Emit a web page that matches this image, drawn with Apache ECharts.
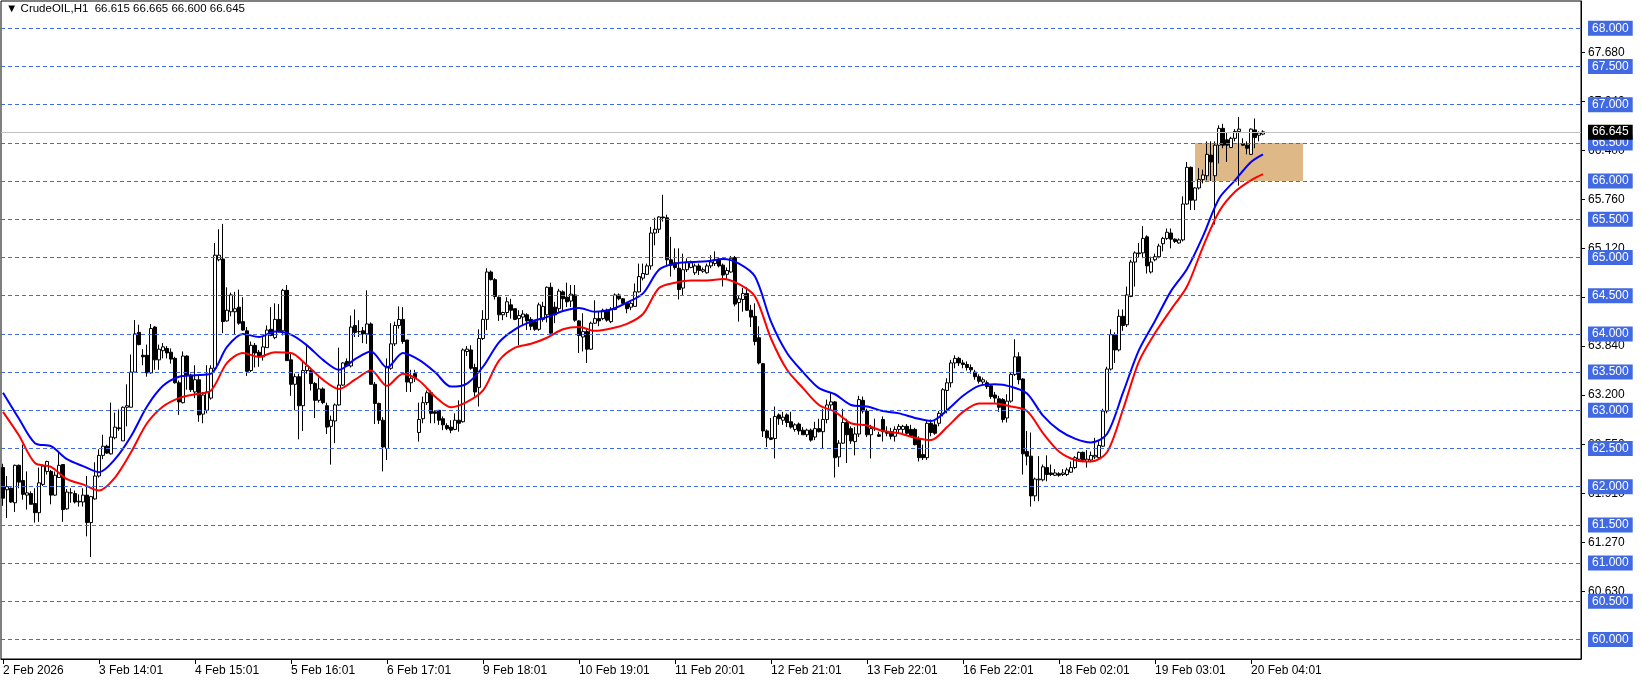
<!DOCTYPE html>
<html><head><meta charset="utf-8">
<script src="https://cdn.jsdelivr.net/npm/echarts@6/dist/echarts.min.js"></script>
<style>html,body{margin:0;padding:0;background:#fff}#c{width:1641px;height:683px}</style>
</head><body><div id="c"></div>
<script>
const symbolName = 'CrudeOIL,H1';
const lastBar = [66.615, 66.665, 66.600, 66.645];
const xTickLabels = ['2 Feb 2026','3 Feb 14:01','4 Feb 15:01','5 Feb 16:01','6 Feb 17:01','9 Feb 18:01','10 Feb 19:01','11 Feb 20:01','12 Feb 21:01','13 Feb 22:01','16 Feb 22:01','18 Feb 02:01','19 Feb 03:01','20 Feb 04:01'];
const barsPerLabel = 24;
const totalSlots = 395;
const levelLines = [60.0,60.5,61.0,61.5,62.0,62.5,63.0,63.5,64.0,64.5,65.0,65.5,66.0,66.5,67.0,67.5,68.0];
const scaleLabels = [60.63,61.27,61.91,62.55,63.20,63.84,64.48,65.12,65.76,66.40,67.04,67.68];
const zoneBars = [298, 325];
const zonePrices = [66.0, 66.5];

const opens = [62.25,61.96,61.98,61.79,62.28,62.08,61.89,61.91,61.78,61.66,
62.03,62.20,62.20,61.89,62.12,62.29,61.71,61.92,61.91,61.80,
61.80,61.89,61.53,61.84,62.14,62.41,62.53,62.43,62.64,62.77,
62.60,63.04,63.04,63.50,64.02,63.72,63.72,63.49,64.09,63.66,
63.78,63.81,63.76,63.68,63.36,63.10,63.71,63.46,63.24,63.40,
62.95,63.00,63.16,63.55,64.97,64.98,64.17,64.29,64.29,64.35,
64.16,64.04,63.52,63.85,63.76,63.70,63.82,64.06,63.95,64.19,
64.04,64.57,63.66,63.34,63.44,63.06,63.52,63.52,63.35,63.13,
63.28,63.06,62.79,62.86,63.07,63.33,63.64,63.58,64.11,64.03,
64.04,64.00,64.13,63.34,63.09,62.87,62.50,63.55,63.87,64.11,
64.19,63.92,63.36,63.48,62.71,62.89,63.10,63.23,62.98,63.00,
62.89,62.80,62.78,62.75,62.87,62.85,63.77,63.79,63.56,63.30,
63.94,64.19,64.81,64.71,64.48,64.25,64.28,64.38,64.33,64.20,
64.22,64.25,64.19,64.16,64.06,64.19,64.25,64.61,64.35,64.33,
64.55,64.48,64.43,64.51,64.17,63.96,64.03,63.80,64.14,64.20,
64.20,64.31,64.16,64.32,64.51,64.46,64.40,64.35,64.36,64.55,
64.73,64.78,64.89,65.32,65.37,65.53,65.52,64.97,64.93,64.86,
64.60,64.84,64.87,64.80,64.89,64.82,64.80,64.89,64.92,64.98,
64.90,64.78,64.81,65.00,64.41,64.45,64.53,64.31,64.23,63.95,
63.61,62.73,62.64,62.63,62.94,62.87,62.94,62.85,62.75,62.82,
62.74,62.68,62.74,62.65,62.76,62.72,62.88,63.07,63.11,62.39,
62.57,62.84,62.76,62.59,62.69,63.13,62.99,62.68,62.76,62.68,
62.88,62.72,62.72,62.66,62.75,62.75,62.79,62.75,62.75,62.62,
62.42,62.38,62.83,62.81,62.83,62.96,63.26,63.36,63.62,63.68,
63.62,63.60,63.56,63.50,63.44,63.37,63.36,63.32,63.20,63.15,
63.14,62.90,63.12,63.47,63.70,63.41,62.46,62.40,61.88,62.09,
62.09,62.25,62.18,62.15,62.17,62.16,62.16,62.19,62.25,62.36,
62.45,62.33,62.35,62.39,62.38,62.53,62.99,63.54,63.99,63.79,
64.23,64.12,64.49,64.94,65.05,65.06,65.27,64.81,64.97,65.01,
65.18,65.25,65.32,65.24,65.19,65.23,65.70,66.18,65.75,65.91,
66.02,66.07,66.34,66.07,66.47,66.69,66.54,66.44,66.56,66.65,
66.49,66.47,66.35,66.67,66.60,66.615];

const highs = [62.30,62.14,61.99,62.29,62.29,62.55,62.20,61.94,61.98,62.25,
62.29,62.34,62.22,62.20,62.44,62.29,61.97,61.98,61.95,61.90,
61.98,62.14,61.88,62.32,62.49,62.68,62.55,63.10,62.97,63.01,
63.05,63.34,63.73,64.18,64.12,63.80,63.86,64.13,64.10,63.86,
63.88,63.84,63.81,63.70,63.39,63.77,63.72,63.48,63.59,63.46,
63.24,63.59,63.59,65.19,65.37,65.44,64.61,64.54,64.55,64.58,
64.48,64.09,63.90,63.88,63.79,63.96,64.11,64.35,64.40,64.39,
64.59,64.64,63.74,63.48,63.48,63.63,63.85,63.56,63.37,63.43,
63.30,63.10,62.93,63.09,63.82,63.63,63.68,64.24,64.32,64.18,
64.09,64.57,64.15,63.37,63.10,62.91,63.68,64.14,64.16,64.36,
64.35,63.92,63.53,63.53,63.10,63.18,63.26,63.26,63.00,63.00,
62.92,62.83,62.87,62.96,63.13,63.81,63.84,63.85,63.61,64.06,
64.31,64.86,64.83,64.73,64.49,64.29,64.48,64.46,64.33,64.31,
64.31,64.27,64.22,64.18,64.41,64.42,64.62,64.67,64.42,64.59,
64.57,64.67,64.64,64.64,64.18,64.27,64.07,64.16,64.44,64.29,
64.33,64.33,64.35,64.53,64.53,64.47,64.42,64.42,64.66,64.92,
64.92,64.92,65.40,65.52,65.54,65.82,65.56,65.27,65.12,65.12,
65.05,64.99,64.96,64.92,64.92,64.87,64.92,65.03,65.08,65.00,
64.92,64.87,65.02,65.02,64.50,64.60,64.61,64.38,64.40,64.10,
63.62,62.75,62.90,63.05,62.96,62.98,62.96,62.98,62.83,62.84,
62.78,62.76,62.76,62.85,62.89,63.02,63.14,63.24,63.12,62.61,
63.02,62.89,62.79,62.78,63.19,63.18,63.02,62.81,62.89,62.72,
62.92,62.79,62.77,62.79,62.82,62.81,62.82,62.81,62.77,62.66,
62.55,62.86,62.88,62.88,62.99,63.29,63.42,63.66,63.72,63.70,
63.66,63.64,63.60,63.53,63.47,63.43,63.39,63.34,63.24,63.19,
63.16,63.21,63.49,63.93,63.76,63.42,62.73,62.71,62.12,62.40,
62.29,62.41,62.29,62.23,62.19,62.23,62.25,62.33,62.40,62.46,
62.46,62.48,62.46,62.64,62.60,63.02,63.57,64.06,64.02,64.32,
64.32,64.62,64.97,65.08,65.19,65.41,65.29,65.01,65.05,65.18,
65.27,65.38,65.38,65.25,65.25,65.80,66.25,66.19,65.92,66.17,
66.15,66.52,66.52,66.52,66.73,66.75,66.63,66.58,66.68,66.84,
66.56,66.52,66.69,66.82,66.65,66.665];

const lows = [61.75,61.59,61.79,61.67,61.98,61.83,61.70,61.77,61.53,61.54,
62.01,62.16,61.77,61.88,62.12,61.54,61.70,61.79,61.78,61.74,
61.74,61.35,61.08,61.83,62.12,62.36,62.43,62.42,62.62,62.73,
62.60,62.79,63.04,63.50,63.85,63.59,63.44,63.48,63.53,63.53,
63.68,63.68,63.61,63.35,62.94,63.09,63.27,63.24,63.16,62.85,
62.83,62.96,63.14,63.53,64.95,64.01,64.16,64.23,63.99,64.12,
64.04,63.45,63.50,63.56,63.57,63.65,63.82,63.97,63.93,64.02,
63.98,63.65,63.19,63.00,62.62,62.73,63.48,63.26,62.90,63.10,
63.08,62.69,62.29,62.57,63.06,63.32,63.57,63.56,63.96,63.96,
63.88,63.87,63.34,62.82,62.82,62.20,62.35,63.53,63.84,64.07,
63.87,63.24,63.24,63.37,62.59,62.83,63.07,62.83,62.83,62.81,
62.74,62.74,62.70,62.74,62.72,62.84,63.71,63.53,63.18,63.05,
63.92,64.05,64.70,64.45,64.17,64.18,64.22,64.20,64.18,63.85,
64.10,64.05,64.05,64.04,64.04,64.16,64.15,63.98,64.14,64.29,
64.31,64.35,64.35,64.16,63.75,63.77,63.62,63.79,64.13,64.10,
64.18,64.16,64.14,64.31,64.44,64.39,64.27,64.31,64.36,64.54,
64.70,64.77,64.84,65.16,65.32,65.47,64.90,64.75,64.84,64.45,
64.51,64.81,64.86,64.77,64.77,64.80,64.79,64.86,64.89,64.87,
64.62,64.72,64.80,64.36,64.16,64.29,64.30,64.09,63.85,63.60,
62.65,62.52,62.61,62.37,62.81,62.81,62.78,62.76,62.72,62.68,
62.68,62.65,62.59,62.61,62.71,62.50,62.83,63.00,62.12,62.26,
62.56,62.31,62.56,62.41,62.65,62.96,62.65,62.37,62.73,62.65,
62.59,62.66,62.62,62.59,62.70,62.68,62.68,62.66,62.54,62.33,
62.35,62.35,62.66,62.68,62.79,62.92,62.96,63.30,63.55,63.58,
63.55,63.52,63.48,63.40,63.35,63.33,63.28,63.15,63.10,62.98,
62.84,62.84,63.10,63.45,63.34,62.16,62.28,61.74,61.81,61.81,
62.07,62.07,62.14,62.14,62.13,62.14,62.14,62.18,62.23,62.33,
62.32,62.25,62.32,62.36,62.36,62.52,62.96,63.52,63.62,63.77,
64.04,64.09,64.48,64.62,65.00,64.99,64.79,64.79,64.95,64.99,
65.08,65.23,65.12,65.19,65.18,65.21,65.69,65.62,65.62,65.89,
65.97,66.01,66.00,65.43,66.23,66.43,66.25,66.43,66.52,65.94,
66.46,66.35,66.34,66.43,66.52,66.600];

const closes = [61.85,62.00,61.80,62.28,62.06,61.90,61.92,61.77,61.66,62.05,
62.27,62.33,61.89,62.15,62.28,61.70,61.93,61.92,61.80,61.81,
61.89,61.53,61.87,62.14,62.41,62.53,62.44,62.65,62.78,62.76,
63.04,63.06,63.50,64.00,63.86,63.70,63.49,64.07,63.66,63.80,
63.83,63.75,63.67,63.36,63.11,63.71,63.46,63.27,63.40,62.94,
63.20,63.24,63.55,65.03,65.03,64.16,64.31,64.51,64.33,64.14,
64.05,63.51,63.85,63.75,63.70,63.83,64.05,63.98,64.19,64.04,
64.57,63.65,63.34,63.44,63.06,63.52,63.58,63.35,63.13,63.28,
63.10,62.78,62.87,63.07,63.33,63.62,63.58,64.09,64.02,64.03,
64.00,64.13,63.34,63.09,62.87,62.52,63.57,63.87,64.11,64.19,
63.90,63.37,63.42,63.43,62.88,63.10,63.23,62.96,62.96,62.87,
62.81,62.76,62.74,62.87,62.83,63.79,63.80,63.55,63.24,63.94,
64.19,64.81,64.71,64.49,64.25,64.28,64.42,64.31,64.19,64.24,
64.26,64.17,64.10,64.06,64.38,64.36,64.61,64.01,64.25,64.56,
64.46,64.42,64.52,64.18,63.98,64.03,63.80,64.14,64.20,64.17,
64.31,64.18,64.32,64.51,64.46,64.40,64.33,64.40,64.55,64.75,
64.79,64.89,65.32,65.37,65.53,65.52,64.97,64.90,64.87,64.58,
64.84,64.94,64.93,64.89,64.83,64.84,64.89,64.94,64.97,64.89,
64.77,64.83,64.99,64.39,64.46,64.53,64.31,64.22,63.90,63.62,
62.73,62.64,62.62,62.92,62.89,62.91,62.84,62.78,62.81,62.73,
62.68,62.74,62.61,62.76,62.72,62.88,63.07,63.11,62.38,62.57,
62.84,62.68,62.60,62.69,63.14,62.99,62.68,62.76,62.76,62.66,
62.72,62.70,62.66,62.75,62.79,62.79,62.70,62.67,62.55,62.38,
62.38,62.83,62.71,62.70,62.96,63.27,63.36,63.62,63.68,63.62,
63.60,63.56,63.53,63.44,63.38,63.40,63.31,63.18,63.16,63.04,
62.88,63.12,63.47,63.70,63.40,62.43,62.40,61.88,62.10,62.10,
62.26,62.16,62.16,62.18,62.15,62.18,62.22,62.25,62.38,62.45,
62.35,62.36,62.41,62.41,62.54,62.99,63.54,63.99,63.79,64.23,
64.11,64.51,64.94,65.06,65.06,65.25,64.89,64.94,65.01,65.15,
65.25,65.33,65.24,65.21,65.23,65.70,66.18,65.75,65.91,66.02,
66.08,66.35,66.25,66.47,66.69,66.47,66.47,66.56,66.65,66.68,
66.47,66.43,66.68,66.57,66.63,66.645];

const maIdx = [0,4,8,12,16,20,24,28,32,36,40,44,48,52,56,60,64,68,72,76,80,84,88,92,96,100,104,108,112,116,120,124,128,132,136,140,144,148,152,156,160,164,168,172,176,180,184,188,192,196,200,204,208,212,216,220,224,228,232,236,240,244,248,252,256,260,264,268,272,276,280,284,288,292,296,300,304,308,312,315];
const blueMA = [63.23,62.89,62.57,62.53,62.36,62.27,62.19,62.36,62.66,63.05,
63.32,63.44,63.46,63.48,63.83,64.00,63.96,64.03,63.99,63.85,
63.66,63.53,63.67,63.77,63.56,63.75,63.66,63.50,63.31,63.35,
63.57,63.89,64.06,64.16,64.22,64.30,64.34,64.29,64.32,64.41,
64.53,64.84,64.92,64.94,64.95,64.98,64.92,64.75,64.16,63.75,
63.50,63.29,63.21,63.07,63.05,62.99,62.96,62.90,62.86,63.00,
63.19,63.32,63.34,63.31,63.22,62.93,62.74,62.63,62.58,62.69,
63.23,63.79,64.17,64.56,64.85,65.28,65.77,66.01,66.25,66.35];
const redMA = [62.98,62.67,62.31,62.26,62.10,62.03,61.95,62.12,62.45,62.83,
63.05,63.16,63.21,63.26,63.62,63.75,63.70,63.76,63.75,63.59,
63.40,63.28,63.40,63.52,63.32,63.48,63.39,63.18,63.04,63.11,
63.26,63.65,63.82,63.87,63.95,64.06,64.09,64.04,64.07,64.13,
64.26,64.60,64.67,64.70,64.70,64.72,64.65,64.49,63.94,63.53,
63.29,63.07,62.98,62.83,62.80,62.73,62.70,62.64,62.61,62.78,
62.98,63.09,63.09,63.05,62.99,62.70,62.46,62.35,62.33,62.45,
63.01,63.64,64.01,64.32,64.62,65.14,65.60,65.86,66.01,66.09];

// ---- build ----
const categories = [];
for (let i = 0; i < totalSlots; i++) {
  const k = i / barsPerLabel;
  categories.push(Number.isInteger(k) && k < xTickLabels.length ? xTickLabels[k] : '');
}
const candleData = opens.map((o, i) => [o, closes[i], lows[i], highs[i]]);
const bluePts = maIdx.map((x, i) => [x, blueMA[i]]);
const redPts = maIdx.map((x, i) => [x, redMA[i]]);
const tickShown = (idx) => idx % barsPerLabel === 0 && idx / barsPerLabel < xTickLabels.length;
const FONT = 'Liberation Sans';
const LEVEL_BLUE = '#4169E1';

const levelMarks = levelLines.map(v => ({
  yAxis: v,
  lineStyle: { color: LEVEL_BLUE, type: [4, 3], width: 1 },
  label: { show: true, position: 'end', distance: 7, formatter: v.toFixed(3),
    color: '#fff', backgroundColor: LEVEL_BLUE, padding: [2, 4, 1, 4], fontSize: 12, fontFamily: FONT }
}));
levelMarks.push({
  yAxis: lastBar[3],
  lineStyle: { color: '#C0C0C0', type: 'solid', width: 1 },
  label: { show: true, position: 'end', distance: 7, formatter: lastBar[3].toFixed(3),
    color: '#fff', backgroundColor: '#000', padding: [2, 4, 1, 4], fontSize: 12, fontFamily: FONT }
});

const chart = echarts.init(document.getElementById('c'), null, { renderer: 'canvas' });
chart.setOption({
  animation: false,
  backgroundColor: '#fff',
  title: {
    text: '\u25BC ' + symbolName + '  ' + lastBar.map(v => v.toFixed(3)).join(' '),
    left: 6, top: 3, padding: 0,
    textStyle: { fontSize: 11.5, fontWeight: 'normal', color: '#000', fontFamily: FONT }
  },
  grid: { left: 1, right: 60, top: 1, bottom: 24, show: true, borderColor: '#000', borderWidth: 1, backgroundColor: '#fff' },
  xAxis: {
    type: 'category', data: categories, boundaryGap: true,
    axisLine: { show: true, lineStyle: { color: '#000', width: 1 } },
    axisTick: { show: true, interval: tickShown, alignWithLabel: true, length: 5, lineStyle: { color: '#000' } },
    axisLabel: { interval: tickShown, align: 'left', color: '#000', fontSize: 12, fontFamily: FONT, margin: 6 },
    splitLine: { show: false }
  },
  yAxis: {
    type: 'value', position: 'right', min: 59.745, max: 68.357, scale: true,
    axisLine: { show: true, lineStyle: { color: '#000' } },
    axisTick: { show: true, customValues: scaleLabels, length: 4, lineStyle: { color: '#000' } },
    axisLabel: { customValues: scaleLabels, formatter: v => v.toFixed(3), color: '#000', fontSize: 12, fontFamily: FONT, margin: 7 },
    splitLine: { show: false }
  },
  series: [
    {
      name: 'levels', type: 'line', data: opens.map(() => null), symbol: 'none', silent: true, z: 1,
      lineStyle: { opacity: 0 },
      markArea: {
        silent: true,
        itemStyle: { color: '#DEB887', opacity: 1 },
        data: [[{ xAxis: zoneBars[0], yAxis: zonePrices[1] }, { xAxis: zoneBars[1], yAxis: zonePrices[0] }]]
      },
      markLine: { silent: true, symbol: 'none', animation: false, data: levelMarks }
    },
    {
      name: 'price', type: 'candlestick', data: candleData, barWidth: 3, z: 3,
      itemStyle: { color: '#fff', color0: '#000', borderColor: '#000', borderColor0: '#000', borderWidth: 1 }
    },
    {
      name: 'maFast', type: 'line', data: bluePts, symbol: 'none', z: 4, smooth: 0.3,
      lineStyle: { color: '#0000FF', width: 2 }
    },
    {
      name: 'maSlow', type: 'line', data: redPts, symbol: 'none', z: 4, smooth: 0.3,
      lineStyle: { color: '#FF0000', width: 2 }
    }
  ]
});
</script>
</body></html>
